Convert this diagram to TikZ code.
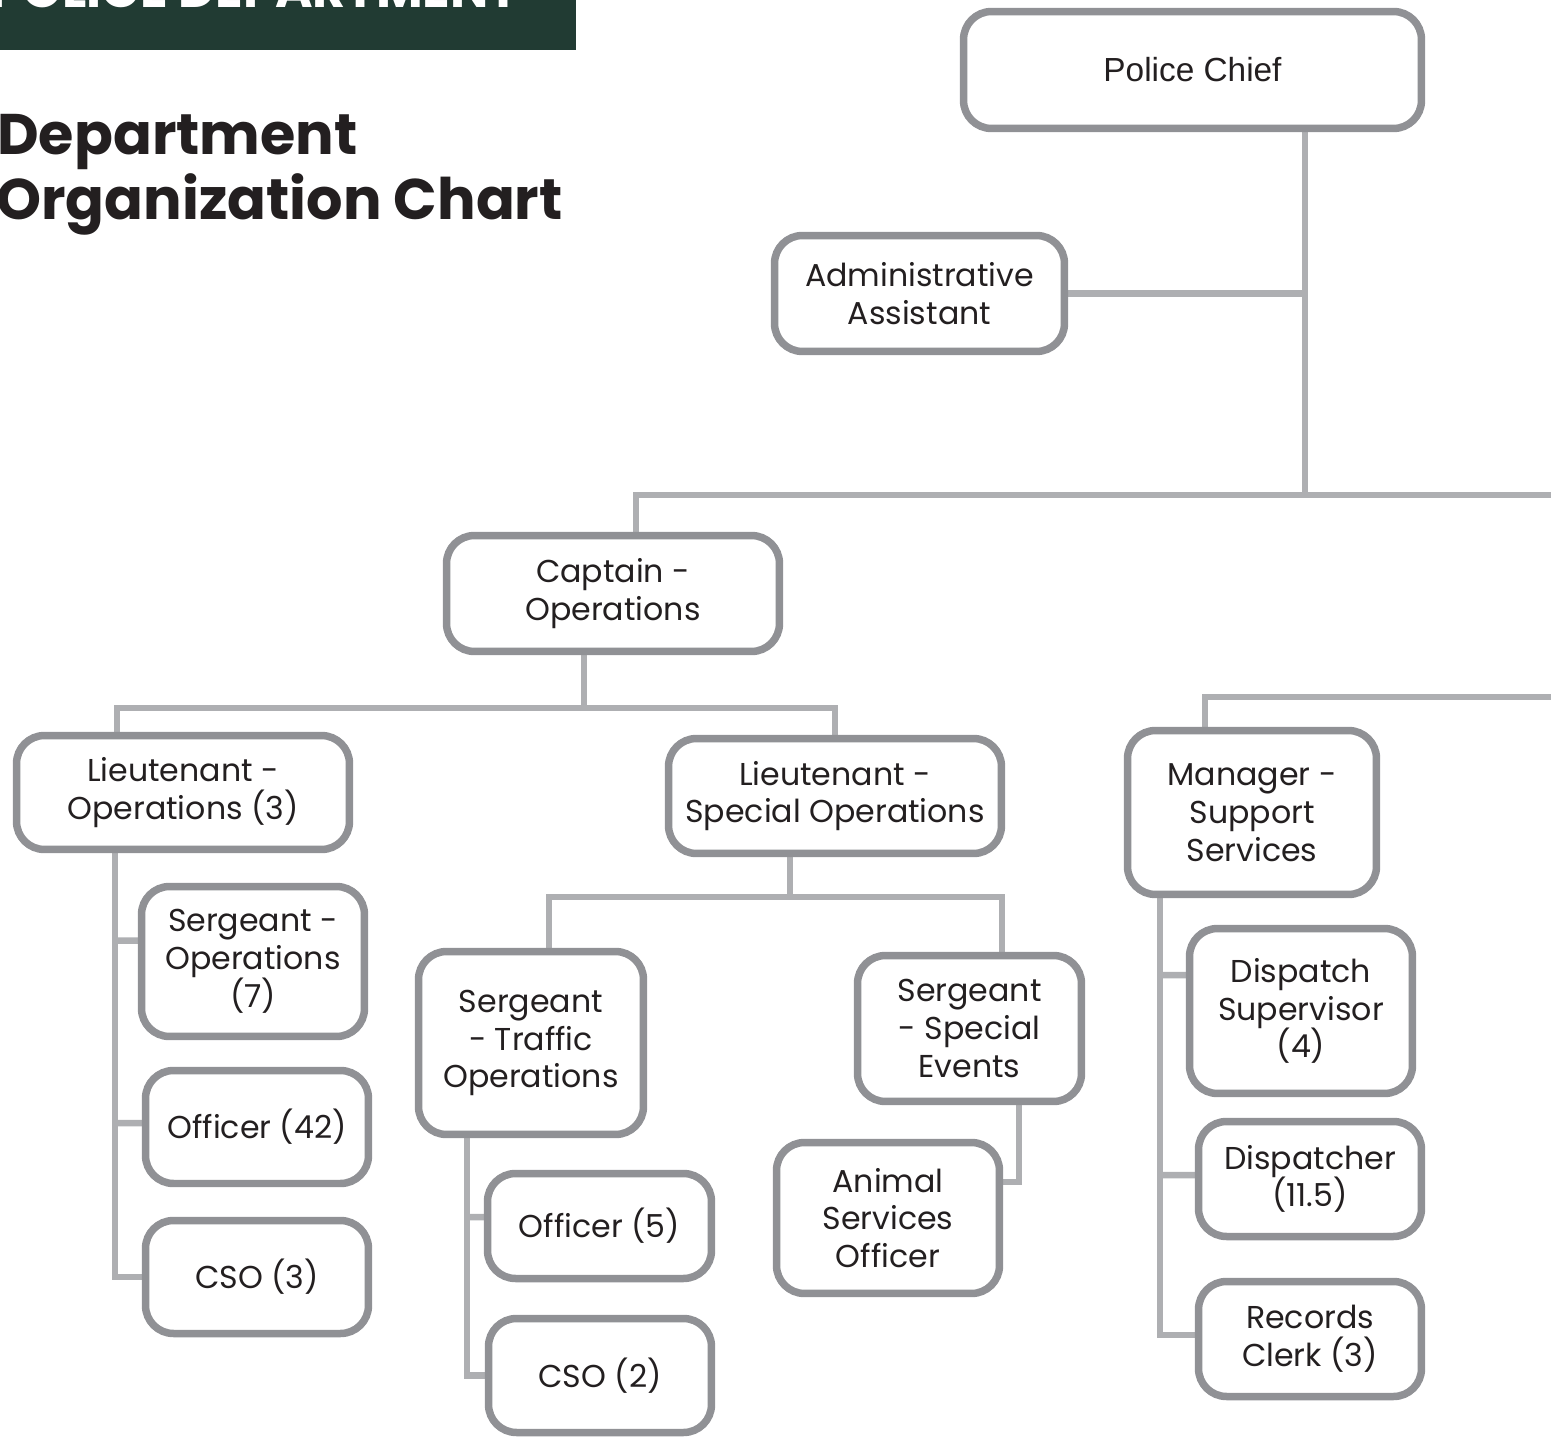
\documentclass[tikz,border=0pt]{standalone}
\usepackage{fontspec}
\setmainfont{Poppins}
\newfontfamily\arialfont{Liberation Sans}
\usetikzlibrary{backgrounds}

\definecolor{bannergreen}{HTML}{213B33}
\definecolor{boxgray}{HTML}{909195}
\definecolor{linkgray}{HTML}{AEAFB2}
\definecolor{inkblack}{HTML}{231F20}

\tikzset{
  post/.style 2 args={draw=boxgray, line width=0.15cm, fill=white,
    rounded corners=0.56cm, align=center, inner sep=0pt, text=inkblack,
    font=\fontsize{18}{21.5}\selectfont,
    minimum width=#1, minimum height=#2},
  link/.style={draw=linkgray, line width=0.13cm}
}

\begin{document}
\begin{tikzpicture}[x=0.02cm,y=-0.02cm]
  \useasboundingbox (0,0) rectangle (1551,1439);
  % banner and heading
  \fill[bannergreen] (0,0) rectangle (576,50);
  \node[anchor=base west, text=white, inner sep=0pt,
        font=\fontsize{29}{33}\bfseries] (banner) at (-10,8) {POLICE DEPARTMENT};
  \node[anchor=base west, inner sep=0pt, text=inkblack,
        font=\fontsize{32.6}{37}\bfseries] (head1) at (-3,155) {Department};
  \node[anchor=base west, inner sep=0pt, text=inkblack,
        font=\fontsize{32.6}{37}\bfseries] (head2) at (-4,220) {Organization Chart};

  % top level
  \node[post={9.16cm}{2.34cm}, font=\arialfont\fontsize{19}{22}\selectfont]
       (chief) at (1192.5,70) {Police Chief};
  \node[post={5.8cm}{2.32cm}] (admin) at (919.5,293.5) {Administrative\\Assistant};
  \node[post={6.66cm}{2.32cm}] (captain) at (613,593.5) {Captain -\\Operations};
  \node[post={4.98cm}{3.28cm}] (mgr) at (1252,812.5) {Manager -\\Support\\Services};

  % operations
  \node[post={6.66cm}{2.28cm}] (ltops) at (183,792.5) {Lieutenant -\\Operations (3)};
  \node[post={6.66cm}{2.30cm}] (ltspec) at (835,796) {Lieutenant -\\Special Operations};
  \node[post={4.46cm}{3.0cm}] (sgtops) at (253,961.5) {Sergeant -\\Operations\\(7)};
  \node[post={4.46cm}{2.26cm}] (off42) at (257,1127) {Officer (42)};
  \node[post={4.46cm}{2.26cm}] (cso3) at (257,1277) {CSO (3)};
  \node[post={4.5cm}{3.66cm}] (sgttraf) at (531,1043) {Sergeant\\- Traffic\\Operations};
  \node[post={4.48cm}{2.10cm}] (off5) at (599.5,1226) {Officer (5)};
  \node[post={4.46cm}{2.28cm}] (cso2) at (600,1375.5) {CSO (2)};
  \node[post={4.48cm}{2.92cm}] (sgtspec) at (969.5,1028.5) {Sergeant\\- Special\\Events};
  \node[post={4.46cm}{3.02cm}] (animal) at (888,1218) {Animal\\Services\\Officer};

  % support services
  \node[post={4.46cm}{3.30cm}] (dispsup) at (1301,1011) {Dispatch\\Supervisor\\(4)};
  \node[post={4.46cm}{2.30cm}] (disp) at (1310,1179) {Dispatcher\\(11.5)};
  \node[post={4.46cm}{2.30cm}] (records) at (1310,1339) {Records\\Clerk (3)};

  % junction points
  \coordinate (spine) at (1305,495);
  \coordinate (capdrop) at (636,495);
  \coordinate (edgeA) at (1560,495);
  \coordinate (mgrdrop) at (1205,697);
  \coordinate (edgeB) at (1560,697);
  \coordinate (capbus) at (584,708);
  \coordinate (ltopsdrop) at (117,708);
  \coordinate (ltspecdrop) at (835,708);
  \coordinate (specbus) at (790,897);
  \coordinate (trafdrop) at (549,897);
  \coordinate (eventdrop) at (1002,897);
  \coordinate (railA) at (115,0);
  \coordinate (railB) at (467,0);
  \coordinate (railC) at (1160,0);
  \coordinate (railD) at (1019,0);

  \begin{scope}[on background layer]
    \draw[link] (chief.south -| spine) -- (spine);
    \draw[link] (admin.east) -- (admin.east -| spine);
    \draw[link] (captain.north -| capdrop) -- (capdrop) -- (edgeA);
    \draw[link] (mgr.north -| mgrdrop) -- (mgrdrop) -- (edgeB);
    \draw[link] (captain.south -| capbus) -- (capbus);
    \draw[link] (ltops.north -| ltopsdrop) -- (ltopsdrop) -- (ltspecdrop)
                -- (ltspec.north -| ltspecdrop);
    \draw[link] (ltspec.south -| specbus) -- (specbus);
    \draw[link] (sgttraf.north -| trafdrop) -- (trafdrop) -- (eventdrop)
                -- (sgtspec.north -| eventdrop);
    % rails down to the staff boxes
    \draw[link] (ltops.south -| railA) |- (cso3.west);
    \draw[link] (sgtops.west -| railA) ++(0,-21) -- ([yshift=0.42cm]sgtops.west);
    \draw[link] (off42.west -| railA) ++(0,-4) -- ([yshift=0.08cm]off42.west);
    \draw[link] (sgttraf.south -| railB) |- (cso2.west);
    \draw[link] (off5.west -| railB) ++(0,-9) -- ([yshift=0.18cm]off5.west);
    \draw[link] (sgtspec.south -| railD) |- ([yshift=0.72cm]animal.east);
    \draw[link] (mgr.south -| railC) |- ([yshift=0.08cm]records.west);
    \draw[link] (dispsup.west -| railC) ++(0,-36) -- ([yshift=0.72cm]dispsup.west);
    \draw[link] (disp.west -| railC) ++(0,-4) -- ([yshift=0.08cm]disp.west);
  \end{scope}
\end{tikzpicture}
\end{document}
